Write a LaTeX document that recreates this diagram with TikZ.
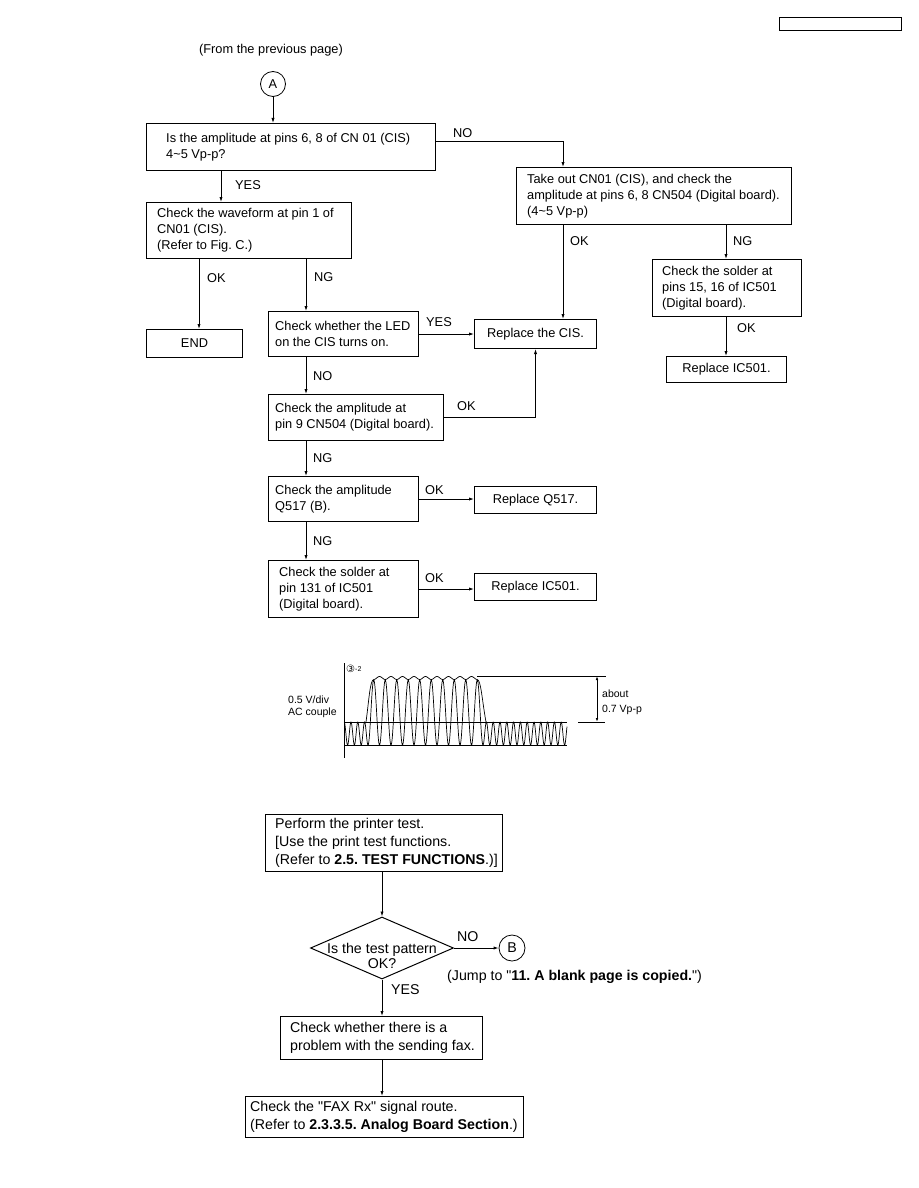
\documentclass[tikz,border=0pt]{standalone}
\usepackage{fontspec}
\setmainfont{Liberation Sans}
\newfontfamily\symfont{DejaVu Sans}
\usetikzlibrary{arrows.meta,shapes.geometric}
\newcommand\fs{\fontsize{12.8}{16}\selectfont}
\newcommand\fsl{\fontsize{14.2}{17.7}\selectfont}
\newcommand\fsd{\fontsize{14.2}{15.5}\selectfont}
\newcommand\fsm{\fontsize{10.5}{12}\selectfont}
\newcommand\fsa{\fontsize{10.5}{15}\selectfont}
\frenchspacing
\begin{document}
\begin{tikzpicture}[x=1pt,y=-1pt,
  rect/.style={draw, line width=1pt, anchor=north west, inner sep=0pt},
  txt/.style={font=\fs, align=left, anchor=west, inner sep=0pt},
  txtl/.style={font=\fsl, align=left, anchor=west, inner sep=0pt},
  ctxt/.style={font=\fs, inner sep=0pt},
  lbl/.style={font=\fs, anchor=west, inner sep=0pt},
  lbll/.style={font=\fsl, anchor=west, inner sep=0pt},
  arr/.style={line width=0.8pt, -{Latex[length=5pt,width=3.2pt]}},
  ln/.style={line width=0.8pt},
  wave/.style={line width=0.7pt},
  conn/.style={draw, circle, line width=0.8pt, minimum size=25pt, inner sep=0pt, font=\fs},
]
\fill[white] (0,0) rectangle (918,1188);
\path[use as bounding box] (0,0) rectangle (918,1188);

% header box
\node[rect, line width=1.2pt, minimum width=122pt, minimum height=13pt] (hdr) at (779,17) {};

% ---------- upper flowchart ----------
\node[ctxt] (from) at (271,50) {(From the previous page)};
\node[conn] (A) at (273,84) {A};

\node[rect, minimum width=289pt, minimum height=47pt] (b1) at (146,123) {};
\node[txt] (t1) at ([xshift=20pt]b1.west) {Is the amplitude at pins 6, 8 of CN 01 (CIS)\\4\textasciitilde5 Vp-p?};

\node[rect, minimum width=275pt, minimum height=57pt] (b2) at (516,167) {};
\node[txt] (t2) at ([xshift=11pt]b2.west) {Take out CN01 (CIS), and check the\\amplitude at pins 6, 8 CN504 (Digital board).\\(4\textasciitilde5 Vp-p)};

\node[rect, minimum width=205pt, minimum height=56pt] (b3) at (146,202) {};
\node[txt] (t3) at ([xshift=11pt]b3.west) {Check the waveform at pin 1 of\\CN01 (CIS).\\(Refer to Fig. C.)};

\node[rect, minimum width=96pt, minimum height=28pt, font=\fs] (bend) at (146,329) {END};

\node[rect, minimum width=150pt, minimum height=45pt] (b4) at (268,311) {};
\node[txt] (t4) at ([xshift=7pt]b4.west) {Check whether the LED\\on the CIS turns on.};

\node[rect, minimum width=122pt, minimum height=29pt, font=\fs] (cis) at (474,319) {Replace the CIS.};

\node[rect, minimum width=149pt, minimum height=57pt] (b5) at (652,259) {};
\node[txt] (t5) at ([xshift=10pt]b5.west) {Check the solder at\\pins 15, 16 of IC501\\(Digital board).};

\node[rect, minimum width=120pt, minimum height=26pt, font=\fs] (ic1) at (666,356) {Replace IC501.};

\node[rect, minimum width=175pt, minimum height=46pt] (b6) at (268,394) {};
\node[txt] (t6) at ([xshift=7pt]b6.west) {Check the amplitude at\\pin 9 CN504 (Digital board).};

\node[rect, minimum width=150pt, minimum height=45pt] (b7) at (268,476) {};
\node[txt] (t7) at ([xshift=7pt]b7.west) {Check the amplitude\\Q517 (B).};

\node[rect, minimum width=122pt, minimum height=27pt, font=\fs] (q517) at (474,486) {Replace Q517.};

\node[rect, minimum width=150pt, minimum height=57pt] (b8) at (268,560) {};
\node[txt] (t8) at ([xshift=11pt]b8.west) {Check the solder at\\pin 131 of IC501\\(Digital board).};

\node[rect, minimum width=122pt, minimum height=27pt, font=\fs] (ic2) at (474,573) {Replace IC501.};

% guide coordinates
\coordinate (c563) at (563,141);
\coordinate (c221) at (221,0);
\coordinate (c199) at (199,0);
\coordinate (c306) at (306,0);
\coordinate (c726) at (726,0);

% connectors
\draw[arr] (A) -- (A |- b1.north);
\draw[arr] (b1.east |- c563) -| (b2.north -| c563);
\draw[arr] (b1.south -| c221) -- (b3.north -| c221);
\draw[arr] (b3.south -| c199) -- (bend.north -| c199);
\draw[arr] (b3.south -| c306) -- (b4.north -| c306);
\draw[arr] (b4.east) -- (b4.east -| cis.west);
\draw[arr] (b2.south -| c563) -- (cis.north -| c563);
\draw[arr] (b2.south -| c726) -- (b5.north -| c726);
\draw[arr] (b5.south -| c726) -- (ic1.north -| c726);
\draw[arr] (b4.south -| c306) -- (b6.north -| c306);
\draw[arr] (b6.east) -| (cis.south);
\draw[arr] (b6.south -| c306) -- (b7.north -| c306);
\draw[arr] (b7.east) -- (b7.east -| q517.west);
\draw[arr] (b7.south -| c306) -- (b8.north -| c306);
\draw[arr] (b8.east) -- (b8.east -| ic2.west);

% connector labels
\node[lbl] (l1) at (453,133) {NO};
\node[lbl] (l2) at (235,185) {YES};
\node[lbl] (l3) at (207,278) {OK};
\node[lbl] (l4) at (314,277) {NG};
\node[lbl] (l5) at (426,322) {YES};
\node[lbl] (l6) at (570,241) {OK};
\node[lbl] (l7) at (733,241) {NG};
\node[lbl] (l8) at (737,328) {OK};
\node[lbl] (l9) at (313,376) {NO};
\node[lbl] (l10) at (457,406) {OK};
\node[lbl] (l11) at (313,458) {NG};
\node[lbl] (l12) at (425,490) {OK};
\node[lbl] (l13) at (313,541) {NG};
\node[lbl] (l14) at (425,578) {OK};

% ---------- waveform (Fig. C) ----------
\draw[ln] (344,663) -- (344,758);
\draw[ln] (344,722) -- (567,722);
\draw[ln] (344,745) -- (567,745);
\draw[ln] (578,722) -- (605,722);
\draw[ln] (477,676) -- (606,676);
\draw[line width=0.8pt, {Latex[length=4pt,width=2.6pt]}-{Latex[length=4pt,width=2.6pt]}] (597,676) -- (597,722);
\draw[wave] plot[domain=344:368, samples=80, smooth] (\x, {733.5+11.5*cos((360/6.8)*(\x-368))});
\draw[wave] plot[domain=368:483, samples=500, smooth] (\x, {712.5+32.5*cos((360/11.5)*(\x-368))});
\draw[wave] plot[domain=483:567, samples=300, smooth] (\x, {733.5+11.5*cos((360/6.8)*(\x-483))});
\draw[wave] (366,722) .. controls (369,700) and (370,680) .. (373.75,679.5);
\draw[wave] plot[domain=373.75:477.25, samples=150, smooth] (\x, {678+1.5*cos((360/11.5)*(\x-373.75))});
\draw[wave] (477.25,679.5) .. controls (481,680) and (482,700) .. (486,722);
\node[anchor=west, inner sep=0pt] (ch) at (346,669) {{\symfont\fontsize{10}{11}\selectfont ③}\raisebox{1.5pt}{\fontsize{7}{8}\selectfont -2}};
\node[font=\fsm, align=left, anchor=west, inner sep=0pt] (vdiv) at (288,707) {0.5 V/div\\AC couple};
\node[font=\fsa, align=left, anchor=west, inner sep=0pt] (amp) at (602,702) {about\\0.7 Vp-p};

% ---------- lower flowchart ----------
\node[rect, minimum width=237pt, minimum height=57pt] (p) at (265,814) {};
\node[txtl] (tp) at ([xshift=10pt]p.west) {Perform the printer test.\\{[}Use the print test functions.\\(Refer to \textbf{2.5. TEST FUNCTIONS}.)]};

\node[draw, diamond, line width=1pt, minimum width=143pt, minimum height=62pt, inner sep=0pt] (d) at (382,948) {};
\node[font=\fsd, inner sep=0pt, align=center] (dt) at (382,956) {Is the test pattern\\OK?};
\draw[arr] (d.north |- p.south) -- (d.north);

\node[conn, font=\fsl, minimum size=26pt] (B) at (512,948) {B};
\draw[arr] (d.east) -- (B.west);
\node[lbll] (lno) at (457,937) {NO};
\node[lbll] (jump) at (447,977) {(Jump to \textquotedbl\textbf{11. A blank page is copied.}\textquotedbl)};
\node[lbll] (lyes) at (391,990) {YES};

\node[rect, minimum width=202pt, minimum height=43pt] (q) at (280,1016) {};
\node[txtl] (tq) at ([xshift=10pt]q.west) {Check whether there is a\\problem with the sending fax.};
\draw[arr] (d.south) -- (d.south |- q.north);

\node[rect, minimum width=278pt, minimum height=41pt] (r) at (245,1096) {};
\node[txtl] (tr) at ([xshift=5pt]r.west) {Check the \textquotedbl FAX Rx\textquotedbl\ signal route.\\(Refer to \textbf{2.3.3.5. Analog Board Section}.)};
\draw[arr] (q.south -| d.south) -- (r.north -| d.south);
\end{tikzpicture}
\end{document}
